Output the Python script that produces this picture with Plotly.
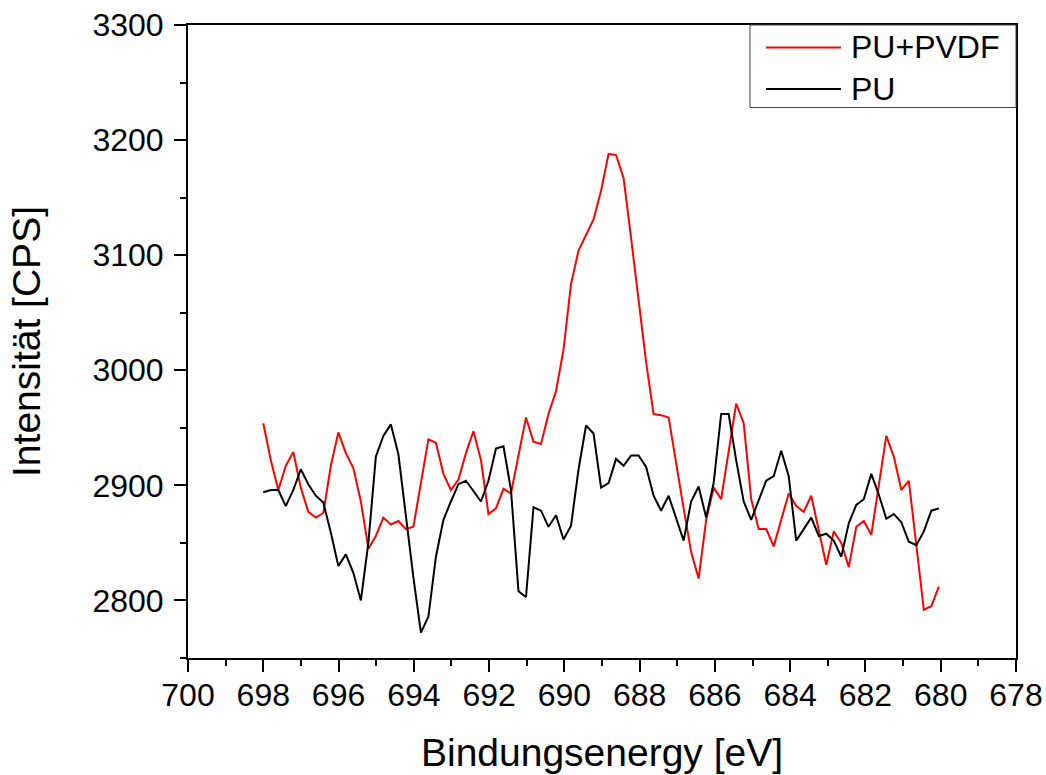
"""XPS F1s-region spectrum: PU vs PU+PVDF, recreated with Plotly."""

import numpy as np
import plotly.graph_objects as go

# binding energy grid, 698 -> ~680 eV (91 channels)
energy = np.linspace(698.0, 680.05, 91)

# counts, one value per channel
pu_pvdf = [
    2954, 2922, 2896, 2917, 2929, 2898, 2877, 2872, 2876, 2917,
    2946, 2928, 2915, 2886, 2845, 2856, 2872, 2866, 2869, 2862,
    2864, 2902, 2940, 2937, 2910, 2896, 2905, 2928, 2947, 2922,
    2875, 2880, 2897, 2893, 2926, 2959, 2938, 2936, 2962, 2982,
    3018, 3075, 3104, 3118, 3131, 3156, 3188, 3187, 3167, 3115,
    3061, 3007, 2962, 2961, 2959, 2918, 2880, 2842, 2819, 2870,
    2898, 2888, 2930, 2971, 2954, 2888, 2862, 2862, 2847, 2870,
    2893, 2882, 2877, 2891, 2860, 2831, 2860, 2850, 2829, 2864,
    2869, 2857, 2900, 2943, 2925, 2896, 2904, 2847, 2792, 2795,
    2812,
]

pu = [
    2894, 2896, 2896, 2882, 2896, 2914, 2901, 2891, 2885, 2859,
    2830, 2840, 2824, 2800, 2850, 2925, 2943, 2953, 2927, 2872,
    2820, 2772, 2786, 2838, 2870, 2886, 2901, 2904, 2895, 2886,
    2904, 2932, 2934, 2896, 2808, 2803, 2881, 2878, 2864, 2874,
    2853, 2865, 2914, 2952, 2945, 2898, 2902, 2923, 2917, 2926,
    2926, 2916, 2891, 2878, 2891, 2871, 2852, 2886, 2899, 2872,
    2902, 2962, 2962, 2922, 2886, 2870, 2887, 2904, 2908, 2930,
    2908, 2852, 2862, 2872, 2856, 2858, 2852, 2838, 2867, 2883,
    2888, 2910, 2892, 2871, 2875, 2868, 2851, 2848, 2860, 2878,
    2880,
]

series_names = ["PU+PVDF", "PU"]
series_colors = ["#ff0000", "#000000"]

FONT = "Liberation Sans, Arial, sans-serif"

fig = go.Figure()

for name, values, color in zip(series_names, [pu_pvdf, pu], series_colors):
    fig.add_trace(go.Scatter(
        x=energy, y=values,
        mode="lines",
        name=name,
        line=dict(color=color, width=2),
        showlegend=False,
    ))

axis_common = dict(
    showline=True,
    linecolor="black",
    linewidth=2,
    mirror=True,
    showgrid=False,
    zeroline=False,
    automargin=False,
    ticks="outside",
    ticklen=12,
    tickwidth=2,
    tickcolor="black",
    ticklabeloverflow="allow",
    tickfont=dict(family=FONT, size=32, color="black"),
)

fig.update_xaxes(
    **axis_common,
    range=[700, 678],
    tickmode="linear",
    tick0=678,
    dtick=2,
    ticklabelstandoff=-4,
    minor=dict(ticks="outside", ticklen=6, tickwidth=2, tickcolor="black", dtick=1),
    title=dict(text="Bindungsenergy [eV]",
               font=dict(family=FONT, size=39, color="black"),
               standoff=26),
)
fig.update_yaxes(
    **axis_common,
    range=[2750, 3300],
    tickmode="linear",
    tick0=2800,
    dtick=100,
    ticklabelstandoff=4,
    minor=dict(ticks="outside", ticklen=6, tickwidth=2, tickcolor="black", dtick=50),
    title=dict(text="Intensität [CPS]",
               font=dict(family=FONT, size=39, color="black"),
               standoff=40),
)

# legend box drawn by hand so its size matches the original (Origin-style)
legend_rows_y = [0.9645, 0.8989]
fig.add_shape(type="rect", xref="paper", yref="paper",
              x0=0.6787, x1=1.0, y0=0.8697, y1=1.0,
              line=dict(color="#404040", width=1), fillcolor="white", layer="above")
for name, color, ly in zip(series_names, series_colors, legend_rows_y):
    fig.add_shape(type="line", xref="paper", yref="paper",
                  x0=0.698, x1=0.7886, y0=ly, y1=ly,
                  line=dict(color=color, width=2), layer="above")
    fig.add_annotation(x=0.7985, y=ly, xref="paper", yref="paper",
                       text=name, showarrow=False,
                       xanchor="left", yanchor="middle",
                       font=dict(family=FONT, size=32, color="black"))

fig.update_layout(
    width=1046,
    height=775,
    margin=dict(l=188, r=30, t=25, b=117),
    paper_bgcolor="white",
    plot_bgcolor="white",
    showlegend=False,
)

# drop the default body margin so the figure sits at the page origin
fig.write_html(
    "out.html",
    config={"displayModeBar": False},
    post_script="document.body.style.margin='0';document.body.style.overflow='hidden';",
)
